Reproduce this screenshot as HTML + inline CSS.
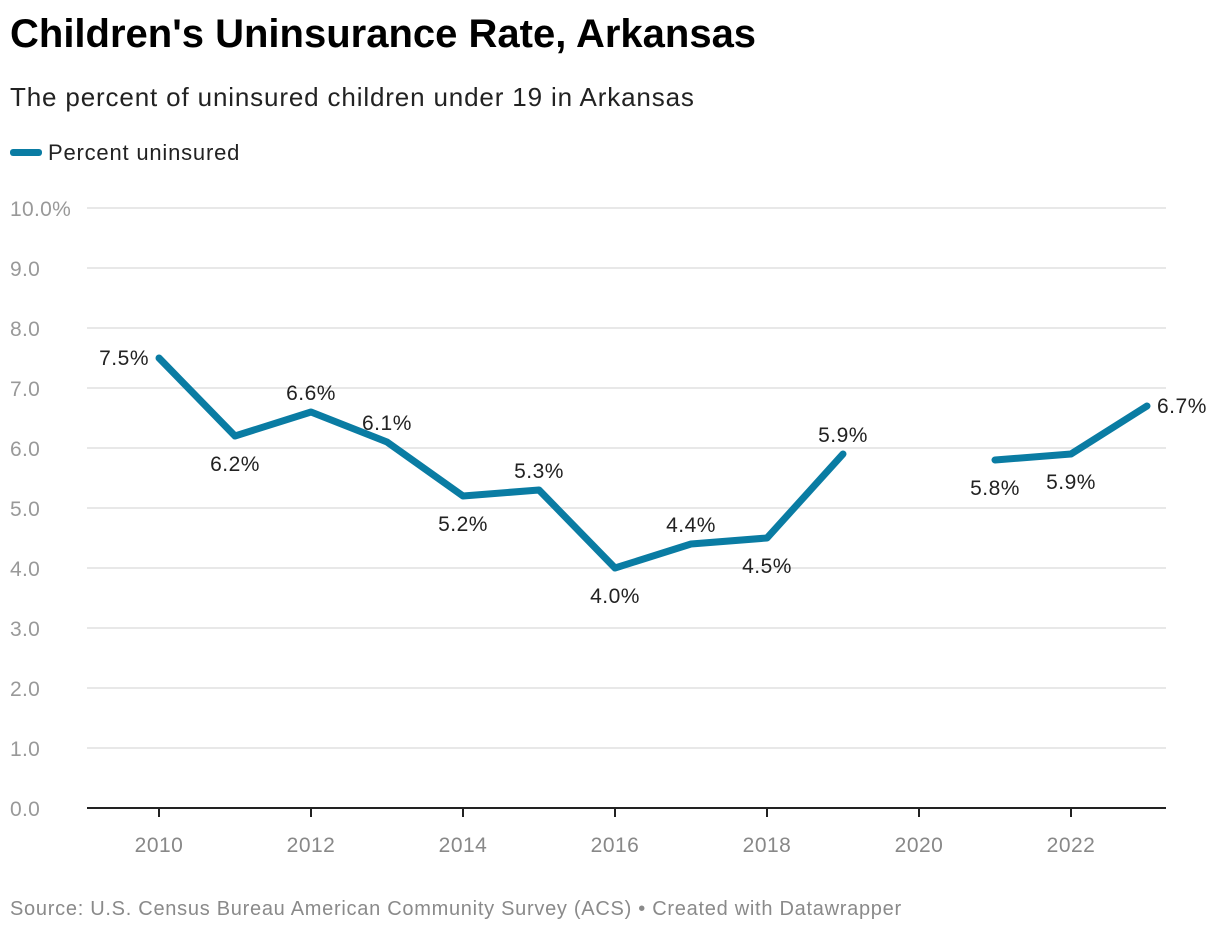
<!DOCTYPE html>
<html><head><meta charset="utf-8"><style>
body{margin:0;background:#fff;width:1220px;height:934px;overflow:hidden;font-family:"Liberation Sans",sans-serif}
.t{position:absolute;white-space:nowrap}
</style></head><body>
<div class="t" style="left:10px;top:12px;font-size:40px;font-weight:bold;color:#000;letter-spacing:0px">Children's Uninsurance Rate, Arkansas</div>
<div class="t" style="left:10px;top:82px;font-size:26px;color:#222;letter-spacing:0.85px">The percent of uninsured children under 19 in Arkansas</div>
<div class="t" style="left:10px;top:140px;font-size:22px;color:#222;letter-spacing:0.8px"><span style="display:inline-block;width:32px;height:7px;border-radius:3px;background:#0a7ca3;vertical-align:middle;margin-right:6px;position:relative;top:-2px"></span>Percent uninsured</div>
<svg id="chart" width="1220" height="934" style="position:absolute;left:0;top:0"></svg>
<div class="t" style="left:10px;top:898px;font-size:20px;color:#8a8a8a;letter-spacing:0.72px">Source: U.S. Census Bureau American Community Survey (ACS) • Created with Datawrapper</div>
<script>
const years=[2010,2011,2012,2013,2014,2015,2016,2017,2018,2019,2020,2021,2022,2023];
const values=[7.5,6.2,6.6,6.1,5.2,5.3,4.0,4.4,4.5,5.9,null,5.8,5.9,6.7];
const labelPos=['left','below','above','aboveR','below','above','below','above','below','above',null,'below','below','right'];
const yTicks=[0,1,2,3,4,5,6,7,8,9,10];
const xTicks=[2010,2012,2014,2016,2018,2020,2022];
const svg=document.getElementById('chart');const NS='http://www.w3.org/2000/svg';
const X=y=>159+(y-2010)*76, Y=v=>808-v*60;
function mk(tag,a){const e=document.createElementNS(NS,tag);for(const k in a)e.setAttribute(k,a[k]);svg.appendChild(e);return e;}
yTicks.forEach(t=>{
 if(t>0){const g=mk('line',{x1:87,x2:1166,y1:Y(t),y2:Y(t),stroke:'#e0e0e0','stroke-width':1.5});
 
 }
 const l=mk('text',{x:10,y:Y(t)+8,'font-size':21,fill:'#999','font-family':'Liberation Sans','letter-spacing':'0.3'});
 l.textContent=t===10?'10.0%':t.toFixed(1);
 
 
});
const ax=mk('line',{x1:87,x2:1166,y1:808,y2:808,stroke:'#222','stroke-width':2});


xTicks.forEach(t=>{
 const tk=mk('line',{x1:X(t),x2:X(t),y1:808,y2:817,stroke:'#222','stroke-width':2});
 
 
 const l=mk('text',{x:X(t),y:852,'font-size':21,fill:'#888','text-anchor':'middle','font-family':'Liberation Sans','letter-spacing':'0.5'});
 l.textContent=t;
 
 
});
let segs=[],cur=[];
values.forEach((v,i)=>{if(v==null){if(cur.length)segs.push(cur);cur=[];}else cur.push([X(years[i]),Y(v)]);});
if(cur.length)segs.push(cur);
segs.forEach(s=>{
 const p=mk('polyline',{points:s.map(q=>q.join(',')).join(' '),fill:'none',stroke:'#0a7ca3','stroke-width':7,'stroke-linejoin':'round','stroke-linecap':'round'});
 
 
});
values.forEach((v,i)=>{
 if(v==null)return;
 const x=X(years[i]),y=Y(v),pos=labelPos[i];
 let a={x:x,y:y,'font-size':21,fill:'#222','text-anchor':'middle','font-family':'Liberation Sans','letter-spacing':'0.5'};
 if(pos==='above'){a.y=y-12;}
 else if(pos==='below'){a.y=y+35;}
 else if(pos==='aboveR'){a.x=x-25;a.y=y-12;a['text-anchor']='start';}
 else if(pos==='left'){a.x=x-10;a.y=y+7;a['text-anchor']='end';}
 else if(pos==='right'){a.x=x+10;a.y=y+7;a['text-anchor']='start';}
 const l=mk('text',a);l.textContent=v.toFixed(1)+'%';
 
 
});
</script>
</body></html>
